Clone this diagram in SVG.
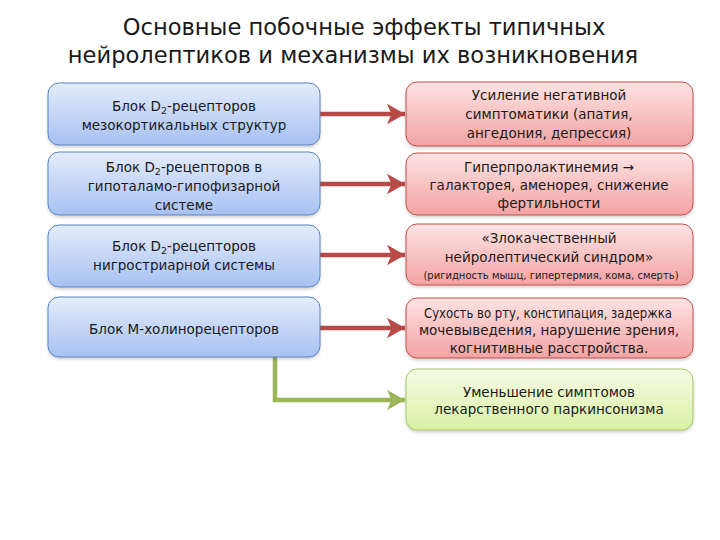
<svg xmlns="http://www.w3.org/2000/svg" width="720" height="540" viewBox="0 0 720 540">
  <defs>
    <style>
      .t { font-family: "DejaVu Sans", "Liberation Sans", sans-serif; fill: #1a1a1a; text-anchor: middle; }
      .title { font-size: 22.6px; }
      .bx { font-size: 13.5px; }
      .sm { font-size: 10px; }
      .blue { fill: url(#gBlue); stroke: #5b82c0; stroke-width: 1; }
      .red { fill: url(#gRed); stroke: #c0504d; stroke-width: 1; }
      .green { fill: url(#gGreen); stroke: #a9c46a; stroke-width: 1; }
      .ar { fill: none; stroke: #b84a48; stroke-width: 4.5; }
      .ag { fill: none; stroke: #9bb558; stroke-width: 4.5; }
    </style>
    <linearGradient id="gBlue" x1="0" y1="0" x2="0" y2="1">
      <stop offset="0" stop-color="#e3ecfb"/>
      <stop offset="1" stop-color="#a7c1f2"/>
    </linearGradient>
    <linearGradient id="gRed" x1="0" y1="0" x2="0" y2="1">
      <stop offset="0" stop-color="#fde3e3"/>
      <stop offset="1" stop-color="#f3a3a3"/>
    </linearGradient>
    <linearGradient id="gGreen" x1="0" y1="0" x2="0" y2="1">
      <stop offset="0" stop-color="#f6fbe6"/>
      <stop offset="1" stop-color="#d9f1a4"/>
    </linearGradient>
    <filter id="sh" x="-5%" y="-10%" width="110%" height="130%">
      <feDropShadow dx="0" dy="2" stdDeviation="1.5" flood-color="#000" flood-opacity="0.18"/>
    </filter>
    <marker id="mR" markerWidth="5" markerHeight="5" refX="4.3" refY="2.5" orient="auto" markerUnits="strokeWidth">
      <path d="M0.3,0.2 L4.3,2.5 L0.3,4.8 L1.3,2.5 Z" fill="#b84a48"/>
    </marker>
    <marker id="mG" markerWidth="5" markerHeight="5" refX="4.3" refY="2.5" orient="auto" markerUnits="strokeWidth">
      <path d="M0.3,0.2 L4.3,2.5 L0.3,4.8 L1.3,2.5 Z" fill="#9bb558"/>
    </marker>
  </defs>
  <rect width="720" height="540" fill="#ffffff"/>

  <g id="title">
    <text class="t title" x="364" y="35">Основные побочные эффекты типичных</text>
    <text class="t title" x="353" y="63">нейролептиков и механизмы их возникновения</text>
  </g>

  <g id="connectors">
    <line class="ar" x1="320" y1="114" x2="405" y2="114" marker-end="url(#mR)"/>
    <line class="ar" x1="320" y1="184" x2="405" y2="184" marker-end="url(#mR)"/>
    <line class="ar" x1="320" y1="255" x2="405" y2="255" marker-end="url(#mR)"/>
    <line class="ar" x1="320" y1="328" x2="405" y2="328" marker-end="url(#mR)"/>
    <path class="ag" d="M275,357 V400 H405" marker-end="url(#mG)"/>
  </g>

  <g id="left1">
    <rect class="blue" x="48" y="83" width="272" height="62" rx="11" filter="url(#sh)"/>
    <text class="t bx" x="184" y="111">Блок D<tspan font-size="9.5" dy="3">2</tspan><tspan dy="-3">-рецепторов</tspan></text>
    <text class="t bx" x="184" y="130">мезокортикальных структур</text>
  </g>
  <g id="left2">
    <rect class="blue" x="48" y="152" width="272" height="63" rx="11" filter="url(#sh)"/>
    <text class="t bx" x="184" y="172">Блок D<tspan font-size="9.5" dy="3">2</tspan><tspan dy="-3">-рецепторов в</tspan></text>
    <text class="t bx" x="184" y="191">гипоталамо-гипофизарной</text>
    <text class="t bx" x="184" y="210">системе</text>
  </g>
  <g id="left3">
    <rect class="blue" x="48" y="225" width="272" height="62" rx="11" filter="url(#sh)"/>
    <text class="t bx" x="184" y="251">Блок D<tspan font-size="9.5" dy="3">2</tspan><tspan dy="-3">-рецепторов</tspan></text>
    <text class="t bx" x="184" y="270">нигростриарной системы</text>
  </g>
  <g id="left4">
    <rect class="blue" x="48" y="297" width="272" height="60" rx="11" filter="url(#sh)"/>
    <text class="t bx" x="184" y="334">Блок М-холинорецепторов</text>
  </g>

  <g id="right1">
    <rect class="red" x="406" y="82" width="287" height="64" rx="11" filter="url(#sh)"/>
    <text class="t bx" x="549" y="100">Усиление негативной</text>
    <text class="t bx" x="549" y="119">симптоматики (апатия,</text>
    <text class="t bx" x="549" y="138">ангедония, депрессия)</text>
  </g>
  <g id="right2">
    <rect class="red" x="406" y="153" width="287" height="62" rx="11" filter="url(#sh)"/>
    <text class="t bx" x="549" y="172">Гиперпролактинемия →</text>
    <text class="t bx" x="549" y="190">галакторея, аменорея, снижение</text>
    <text class="t bx" x="549" y="208">фертильности</text>
  </g>
  <g id="right3">
    <rect class="red" x="406" y="224" width="287" height="61" rx="11" filter="url(#sh)"/>
    <text class="t bx" x="549" y="243">«Злокачественный</text>
    <text class="t bx" x="549" y="262">нейролептический синдром»</text>
    <text class="t sm" x="551" y="279">(ригидность мышц, гипертермия, кома, смерть)</text>
  </g>
  <g id="right4">
    <rect class="red" x="406" y="298" width="287" height="60" rx="11" filter="url(#sh)"/>
    <text class="t bx" x="548" y="318" textLength="248" lengthAdjust="spacingAndGlyphs">Сухость во рту, констипация, задержка</text>
    <text class="t bx" x="549" y="335">мочевыведения, нарушение зрения,</text>
    <text class="t bx" x="549" y="353">когнитивные расстройства.</text>
  </g>
  <g id="right5">
    <rect class="green" x="406" y="369" width="287" height="61" rx="11" filter="url(#sh)"/>
    <text class="t bx" x="549" y="397">Уменьшение симптомов</text>
    <text class="t bx" x="549" y="414">лекарственного паркинсонизма</text>
  </g>
</svg>
